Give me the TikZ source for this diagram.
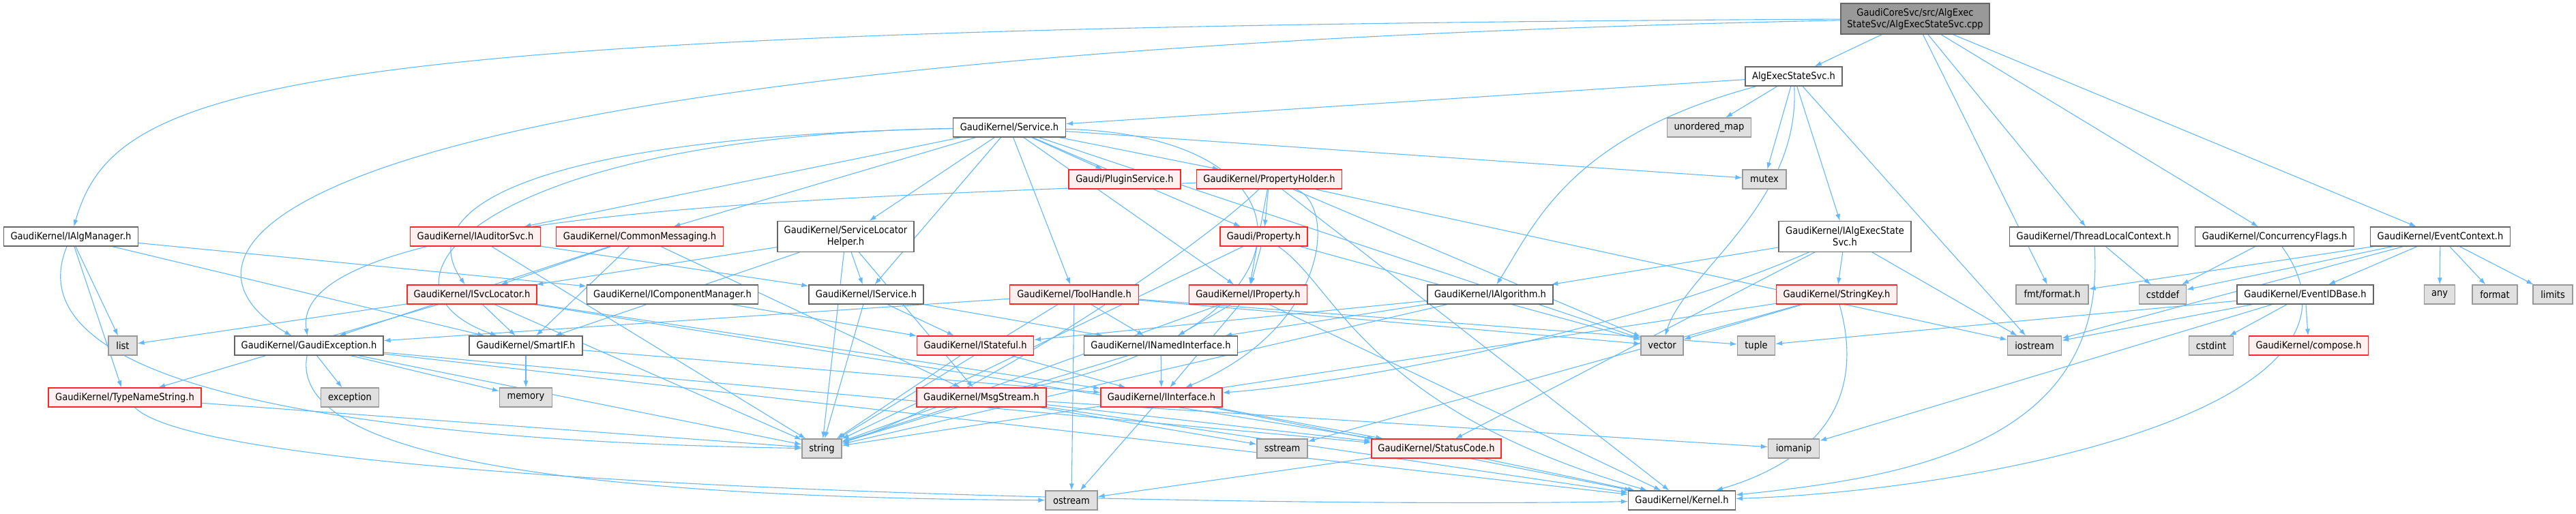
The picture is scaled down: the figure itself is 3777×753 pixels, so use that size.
\documentclass[tikz,border=0pt]{standalone}
\usepackage{fontspec}
\setmainfont{DejaVu Sans}[FakeStretch=0.9]
\usepackage{xcolor}
\usetikzlibrary{arrows.meta,backgrounds}
\definecolor{edgeblue}{HTML}{63B8FF}
\definecolor{redfill}{HTML}{FFF0F0}
\definecolor{sysfill}{HTML}{E0E0E0}

\begin{document}
\begin{tikzpicture}[
  x=1pt, y=-1pt,
  font=\fontsize{14.5pt}{17pt}\selectfont,
  hbox/.style={draw=black!60, fill=white, line width=1.2pt,
    minimum height=28pt, inner sep=0pt},
  hred/.style={hbox, draw=red!85!white, fill=redfill},
  hsys/.style={hbox, draw=black!40, fill=sysfill},
  hmain/.style={hbox, fill=black!40, minimum height=45pt, align=center},
  two/.style={minimum height=45pt, align=center},
  dep/.style={-{Latex[length=10pt,width=7pt]}, edgeblue, line width=1.1pt},
]
\useasboundingbox (0,0) rectangle (3777,753);

% Source file and its own header
\node[hmain, minimum width=218pt] (main) at (2808,27.5)
  {GaudiCoreSvc/src/AlgExec\\StateSvc/AlgExecStateSvc.cpp};
\node[hbox, minimum width=142pt] (aess) at (2630,112) {AlgExecStateSvc.h};

% Rank 2-3
\node[hbox, minimum width=165pt] (svc) at (1480,187) {GaudiKernel/Service.h};
\node[hsys, minimum width=123pt] (umap) at (2506,187) {unordered\_map};
\node[hred, minimum width=164pt] (plugin) at (1649,263) {Gaudi/PluginService.h};
\node[hred, minimum width=213pt] (pholder) at (1861,263) {GaudiKernel/PropertyHolder.h};
\node[hsys, minimum width=64pt] (mutex) at (2587,263) {mutex};

% Rank 4
\node[hbox, minimum width=197pt] (ialgmgr) at (104,347) {GaudiKernel/IAlgManager.h};
\node[hred, minimum width=191pt] (iaud) at (697,347) {GaudiKernel/IAuditorSvc.h};
\node[hred, minimum width=245pt] (cmsg) at (938,347) {GaudiKernel/CommonMessaging.h};
\node[hbox, two, minimum width=200pt] (slh) at (1240,347)
  {GaudiKernel/ServiceLocator\\Helper.h};
\node[hred, minimum width=128pt] (gprop) at (1853,347) {Gaudi/Property.h};
\node[hbox, two, minimum width=194pt] (iaess) at (2705,347)
  {GaudiKernel/IAlgExecState\\Svc.h};
\node[hbox, minimum width=247pt] (tlc) at (3070,347) {GaudiKernel/ThreadLocalContext.h};
\node[hbox, minimum width=233pt] (cflags) at (3335,347) {GaudiKernel/ConcurrencyFlags.h};
\node[hbox, minimum width=205pt] (evctx) at (3578,347) {GaudiKernel/EventContext.h};

% Rank 5
\node[hred, minimum width=190pt] (isvcloc) at (692,432) {GaudiKernel/ISvcLocator.h};
\node[hbox, minimum width=251pt] (icompmgr) at (986,432) {GaudiKernel/IComponentManager.h};
\node[hbox, minimum width=168pt] (iservice) at (1270,432) {GaudiKernel/IService.h};
\node[hred, minimum width=189pt] (toolh) at (1575,432) {GaudiKernel/ToolHandle.h};
\node[hred, minimum width=173pt] (iprop) at (1830,432) {GaudiKernel/IProperty.h};
\node[hbox, minimum width=184pt] (ialg) at (2185,432) {GaudiKernel/IAlgorithm.h};
\node[hred, minimum width=177pt] (skey) at (2693,432) {GaudiKernel/StringKey.h};
\node[hsys, minimum width=106pt] (fmt) at (3009,432) {fmt/format.h};
\node[hsys, minimum width=69pt] (cstddef) at (3171,432) {cstddef};
\node[hbox, minimum width=200pt] (evid) at (3380,432) {GaudiKernel/EventIDBase.h};
\node[hsys, minimum width=45pt] (any) at (3577,432) {any};
\node[hsys, minimum width=66pt] (format) at (3658,432) {format};
\node[hsys, minimum width=58pt] (limits) at (3743,432) {limits};

% Rank 6
\node[hsys, minimum width=42pt] (list) at (180,507) {list};
\node[hbox, minimum width=218pt] (gexc) at (453,507) {GaudiKernel/GaudiException.h};
\node[hbox, minimum width=166pt] (smartif) at (771,507) {GaudiKernel/SmartIF.h};
\node[hred, minimum width=171pt] (istateful) at (1430,507) {GaudiKernel/IStateful.h};
\node[hbox, minimum width=225pt] (inamed) at (1702,507) {GaudiKernel/INamedInterface.h};
\node[hsys, minimum width=62pt] (vector) at (2437,507) {vector};
\node[hsys, minimum width=55pt] (tuple) at (2575,507) {tuple};
\node[hsys, minimum width=79pt] (iostream) at (2983,507) {iostream};
\node[hsys, minimum width=65pt] (cstdint) at (3242,507) {cstdint};
\node[hred, minimum width=175pt] (compose) at (3385,507) {GaudiKernel/compose.h};

% Rank 7
\node[hred, minimum width=224pt] (tns) at (183,583) {GaudiKernel/TypeNameString.h};
\node[hsys, minimum width=85pt] (exception) at (513,583) {exception};
\node[hsys, minimum width=77pt] (memory) at (771,583) {memory};
\node[hred, minimum width=190pt] (msgstream) at (1439,583) {GaudiKernel/MsgStream.h};
\node[hred, minimum width=178pt] (iiface) at (1703,583) {GaudiKernel/IInterface.h};

% Rank 8-9
\node[hsys, minimum width=58pt] (string) at (1205,658) {string};
\node[hsys, minimum width=74pt] (sstream) at (1880,658) {sstream};
\node[hred, minimum width=190pt] (statuscode) at (2106,658) {GaudiKernel/StatusCode.h};
\node[hsys, minimum width=75pt] (iomanip) at (2630,658) {iomanip};
\node[hsys, minimum width=76pt] (ostream) at (1571,734) {ostream};
\node[hbox, minimum width=157pt] (kernel) at (2466,734) {GaudiKernel/Kernel.h};

% Include edges
\begin{scope}[on background layer]
\foreach \a/\b in {main/aess, main/tlc, main/cflags, main/evctx, main/fmt,
    aess/svc, aess/umap, aess/mutex, aess/iaess, aess/iostream,
    svc/iaud, svc/cmsg, svc/slh, svc/iservice, svc/toolh, svc/iprop,
    svc/plugin, svc/pholder, svc/gprop, svc/mutex, svc/vector,
    pholder/iprop, pholder/gprop, pholder/vector, pholder/kernel,
    pholder/iostream,
    gprop/iprop, gprop/string, gprop/vector,
    isvcloc/list, isvcloc/tns, isvcloc/smartif, isvcloc/iiface,
    isvcloc/string, isvcloc/statuscode,
    cmsg/isvcloc, cmsg/smartif, cmsg/gexc, cmsg/msgstream,
    iaud/iservice, iaud/string,
    slh/isvcloc, slh/smartif, slh/iservice, slh/msgstream, slh/string,
    ialgmgr/list, ialgmgr/tns, ialgmgr/icompmgr, ialgmgr/smartif,
    icompmgr/istateful,
    iservice/string, iservice/istateful, iservice/inamed,
    toolh/inamed, toolh/string, toolh/vector, toolh/tuple, toolh/gexc,
    toolh/ostream,
    iprop/inamed, iprop/iiface, iprop/string, iprop/kernel,
    ialg/istateful, ialg/inamed, ialg/string,
    iaess/ialg, iaess/skey, iaess/statuscode, iaess/iostream,
    skey/vector, skey/string, skey/sstream,
    tlc/cstddef, cflags/cstddef,
    evctx/fmt, evctx/cstddef, evctx/iostream, evctx/evid, evctx/any,
    evctx/format, evctx/limits,
    evid/iostream, evid/cstdint, evid/compose, evid/tuple, evid/iomanip,
    gexc/exception, gexc/memory, gexc/string, gexc/statuscode, gexc/kernel,
    smartif/memory, smartif/iiface,
    tns/string, istateful/iiface, istateful/string,
    inamed/iiface, inamed/string,
    msgstream/string, msgstream/sstream, msgstream/iomanip,
    msgstream/statuscode, msgstream/kernel,
    iiface/ostream, iiface/statuscode, iiface/kernel,
    statuscode/kernel, statuscode/ostream}
  \draw[dep] (\a) -- (\b);

% routed ones
\draw[dep] (main) .. controls (400,40) and (170,120) .. (ialgmgr);
\draw[dep] (main) .. controls (300,80) and (230,380) .. (gexc);
\draw[dep] (aess) .. controls (2300,200) and (2250,330) .. (ialg);
\draw[dep] (aess) .. controls (2640,300) and (2470,400) .. (vector);
\draw[dep] (svc) .. controls (800,200) and (600,300) .. (isvcloc);
\draw[dep] (svc) .. controls (700,200) and (520,420) .. (smartif);
\draw[dep] (svc) .. controls (1950,200) and (1940,480) .. (msgstream);
\draw[dep] (pholder) .. controls (1300,290) and (420,300) .. (gexc);
\draw[dep] (pholder) .. controls (1960,300) and (1950,480) .. (iiface);
\draw[dep] (pholder) .. controls (1740,380) and (1400,600) .. (string);
\draw[dep] (gprop) .. controls (1960,420) and (2000,600) .. (kernel);
\draw[dep] (iaess) .. controls (2400,480) and (2000,560) .. (iiface);
\draw[dep] (skey) .. controls (2740,600) and (2650,680) .. (kernel);
\draw[dep] (tlc) .. controls (3090,650) and (2800,700) .. (kernel);
\draw[dep] (cflags) .. controls (3520,600) and (2900,720) .. (kernel);
\draw[dep] (ialgmgr) .. controls (0,600) and (700,650) .. (string);
\draw[dep] (gexc) .. controls (420,680) and (900,730) .. (ostream);
\draw[dep] (tns) .. controls (320,720) and (1900,745) .. (kernel);
\end{scope}
\end{tikzpicture}
\end{document}
